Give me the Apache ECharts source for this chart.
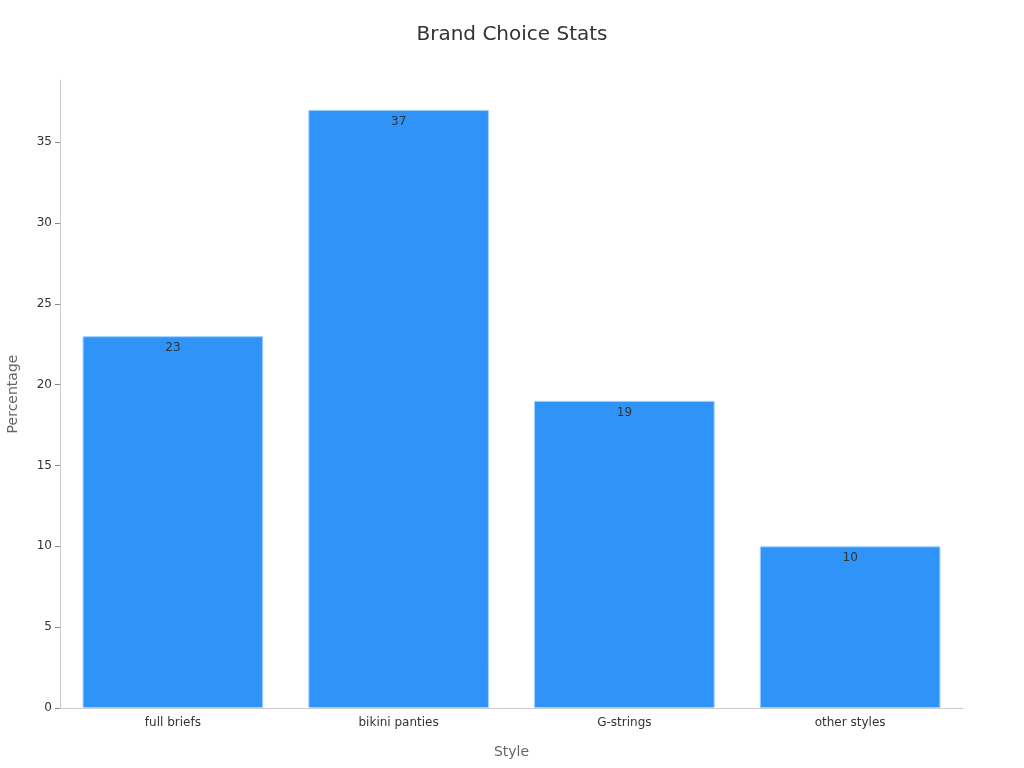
<!DOCTYPE html>
<html>
<head>
<meta charset="utf-8">
<script src="https://cdn.jsdelivr.net/npm/echarts@6/dist/echarts.min.js"></script>
<style>html,body{margin:0;padding:0;background:#fff}#c{width:1024px;height:768px}</style>
</head>
<body>
<div id="c"></div>
<script>
const categories = ["full briefs", "bikini panties", "G-strings", "other styles"];
const values = [23, 37, 19, 10];
const chart = echarts.init(document.getElementById('c'));
chart.setOption({
  animation: false,
  textStyle: { fontFamily: 'DejaVu Sans' },
  title: {
    text: 'Brand Choice Stats', left: 'center', top: 20,
    textStyle: { fontSize: 20, fontWeight: 'normal', color: '#333', fontFamily: 'DejaVu Sans' }
  },
  grid: { left: 60, right: 61, top: 80, bottom: 60, containLabel: false, outerBoundsMode: 'none' },
  xAxis: {
    type: 'category', data: categories,
    name: 'Style', nameLocation: 'middle', nameGap: 37,
    nameTextStyle: { fontSize: 14, color: '#666' },
    axisLine: { lineStyle: { color: '#ccc' } },
    axisTick: { alignWithLabel: true, lineStyle: { color: '#888' } },
    axisLabel: { fontSize: 12, color: '#333', margin: 9 }
  },
  yAxis: {
    type: 'value', min: 0, max: 38.85, interval: 5,
    name: 'Percentage', nameLocation: 'middle', nameGap: 40,
    nameTextStyle: { fontSize: 14, color: '#666' },
    axisLine: { show: true, lineStyle: { color: '#ccc' } },
    axisTick: { show: true, lineStyle: { color: '#888' } },
    axisLabel: { fontSize: 12, color: '#333', showMaxLabel: false },
    splitLine: { show: false }
  },
  series: [{
    type: 'bar', data: values, barWidth: '80%',
    itemStyle: { color: '#2f93f8', borderColor: '#9fd0ff', borderWidth: 1 },
    label: { show: true, position: 'insideTop', offset: [0, 1], fontSize: 12, color: '#333' }
  }]
});
</script>
</body>
</html>
